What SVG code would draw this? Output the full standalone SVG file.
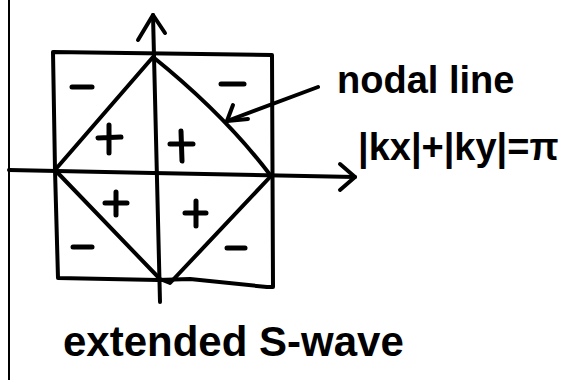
<svg xmlns="http://www.w3.org/2000/svg" width="567" height="380" viewBox="0 0 567 380">
<defs>
<style>
.ink{fill:none;stroke:#000;stroke-width:4;stroke-linecap:round;stroke-linejoin:round}
.thin{fill:none;stroke:#000;stroke-width:2}
.sign{fill:none;stroke:#000;stroke-width:5;stroke-linecap:round}
.hand{font-family:"Liberation Sans","DejaVu Sans",sans-serif;font-weight:bold;fill:#000}
</style>
</defs>
<rect width="567" height="380" fill="#fff"/>
<g id="margin"><line class="thin" x1="9" y1="0" x2="9" y2="380"/></g>
<g id="square"><path class="ink" d="M53 52 L272 55 L273 287 L267 287 L190 279 L158 280 L58 278 L55 170 Z"/></g>
<g id="diamond"><path class="ink" d="M153 57 Q225 115 271 176 L170 283 L160 279 L55 170 Z"/></g>
<g id="connectors">
<path class="ink" d="M153 15 L160 302"/>
<path class="ink" d="M138 40 L153 15 L165 33"/>
<path class="ink" d="M9 170 L153 173 L355 177"/>
<path class="ink" d="M340 164 L355 177 L340 190"/>
<path class="ink" d="M318 87 L227 121"/>
<path class="ink" d="M233 105 L227 121 L248 119"/>
</g>
<g id="signs">
<path class="sign" d="M98 138 L121 137 M109 125 L109 153"/>
<path class="sign" d="M170 144 L193 144 M181 131 L182 161"/>
<path class="sign" d="M105 203 L127 203 M116 192 L116 215"/>
<path class="sign" d="M185 213 L206 213 M196 201 L196 226"/>
<path class="sign" d="M72 87 L92 87"/>
<path class="sign" d="M221 84 L244 84"/>
<path class="sign" d="M73 247 L92 247"/>
<path class="sign" d="M227 248 L245 248"/>
</g>
<g id="labels">
<text class="hand" x="337" y="93" font-size="38">nodal line</text>
<text class="hand" x="358" y="160" font-size="38">|kx|+|ky|=π</text>
<text class="hand" x="63" y="356" font-size="42">extended S-wave</text>
</g>
</svg>
